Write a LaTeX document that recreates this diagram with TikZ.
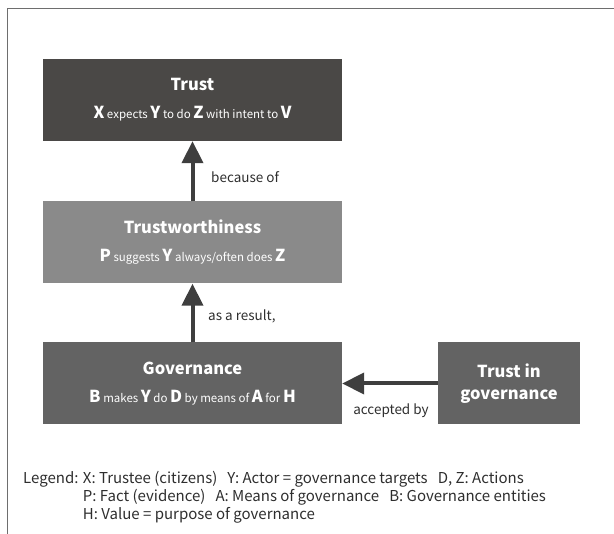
\documentclass[tikz,border=0pt]{standalone}
\usepackage{fontspec}
\setmainfont{Noto Sans CJK JP}
\usetikzlibrary{arrows.meta}

\definecolor{trustfill}{HTML}{4A4846}
\definecolor{worthfill}{HTML}{8A8A8A}
\definecolor{govfill}{HTML}{636363}
\definecolor{linkgray}{HTML}{3E3E3E}
\definecolor{framegray}{HTML}{6E6E6E}
\definecolor{inkgray}{HTML}{2E2E2E}

\newcommand{\boxtitle}[1]{{\fontsize{16.5}{20}\selectfont\bfseries #1}}
\newcommand{\vb}[1]{{\fontsize{16.5}{20}\selectfont\bfseries #1}}

\tikzset{
  box/.style={fill=#1, text=white, minimum width=299pt, minimum height=82pt,
    inner sep=0pt, align=center, font=\fontsize{11.5}{28}\selectfont},
  link/.style={draw=linkgray, line width=4pt, -{Triangle[width=21pt,length=22pt]}},
  lbl/.style={font=\fontsize{13.5}{16}\selectfont, text=inkgray, inner sep=0pt}
}

\begin{document}
\begin{tikzpicture}[x=1pt, y=-1pt]
  \useasboundingbox (0,0) rectangle (614,534);
  \draw [framegray, line width=1pt] (7.5,540) -- (7.5,9) -- (620,9);

  \node [box=trustfill] at (192.5,100) (trust)
    {\boxtitle{Trust}\\\vb{X} expects \vb{Y} to do \vb{Z} with intent to \vb{V}};
  \node [box=worthfill] at (192.5,242.5) (worth)
    {\boxtitle{Trustworthiness}\\\vb{P} suggests \vb{Y} always/often does \vb{Z}};
  \node [box=govfill] at (192.5,383.5) (gov)
    {\boxtitle{Governance}\\\vb{B} makes \vb{Y} do \vb{D} by means of \vb{A} for \vb{H}};
  \node [box=govfill, minimum width=142pt, font=\fontsize{16.5}{22}\selectfont\bfseries] at (509,383.5) (tig)
    {Trust in\\governance};

  \draw [link] (worth.north) -- (trust.south);
  \draw [link] (gov.north) -- (worth.south);
  \draw [link] (tig.west) -- (gov.east);

  \node [lbl, anchor=west] at (211,177) (because) {because of};
  \node [lbl, anchor=west] at (208,316) (result) {as a result,};
  \node [lbl] at (391,411) (accepted) {accepted by};

  \node [lbl, font=\fontsize{15}{18}\selectfont, align=left, anchor=north west] at (23,471) (legend)
    {Legend: X: Trustee (citizens)\ \ \ Y: Actor = governance targets\ \ \ D, Z: Actions\\
     \phantom{Legend: }P: Fact (evidence)\ \ \ A: Means of governance\ \ \ B: Governance entities\\
     \phantom{Legend: }H: Value = purpose of governance};
\end{tikzpicture}
\end{document}
